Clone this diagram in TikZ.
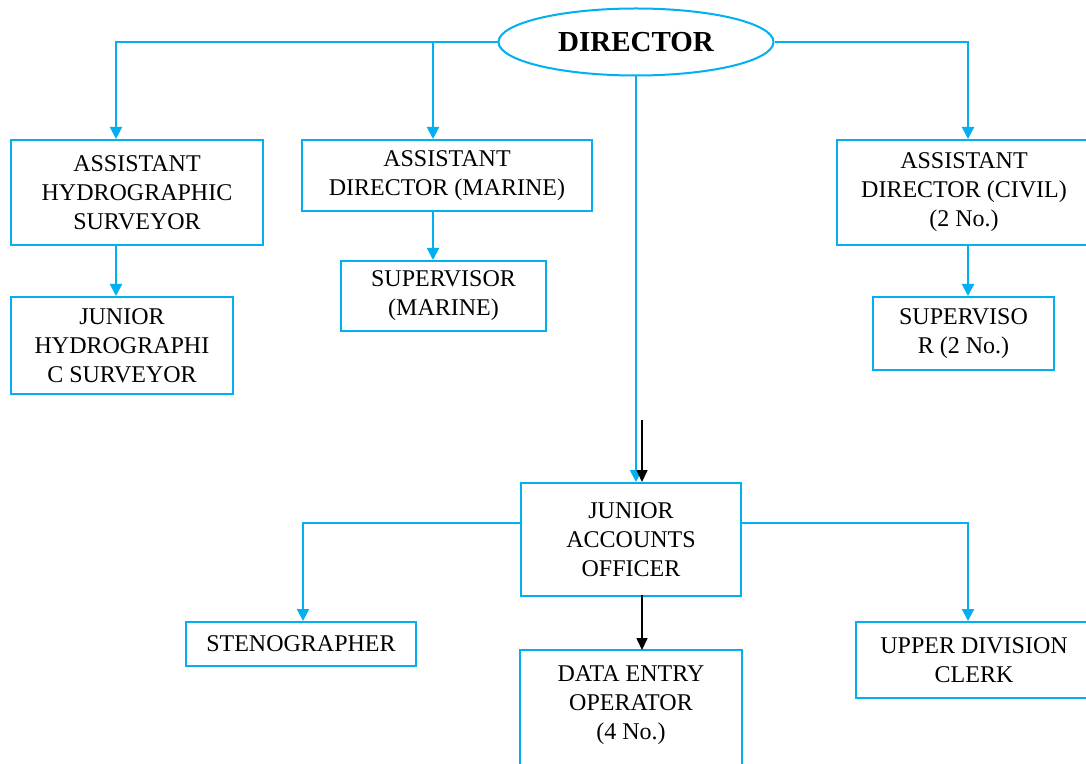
\documentclass[tikz,border=0pt]{standalone}
\usepackage{fontspec}
\setmainfont{Liberation Serif}
\usetikzlibrary{arrows.meta}
\usetikzlibrary{shapes.geometric}
\usetikzlibrary{positioning}

\definecolor{linkblue}{RGB}{0,176,240}

\tikzset {
  % connector styles
  arr/.style = {
    draw = linkblue,
    line width = 1pt,
    -{Triangle[width=6pt,length=6pt]}
  },
  karr/.style = {
    draw = black,
    line width = 0.8pt,
    -{Triangle[width=5.5pt,length=6pt]}
  }
}
\tikzset {
  % office box
  post/.style = {
    draw = linkblue,
    line width = 1pt,
    rectangle,
    align = center,
    inner sep = 0,
    font = \fontsize{12}{14.5}\selectfont
  },
  % head of the office
  head/.style = {
    draw = linkblue,
    line width = 1pt,
    ellipse,
    inner sep = 0,
    minimum width = 137.5pt,
    minimum height = 33.5pt,
    font = \fontsize{14.5}{17}\selectfont\bfseries
  }
}

\begin{document}
\begin{tikzpicture}[x=0.5pt,y=-0.5pt]
    \useasboundingbox (0,0) rectangle (1086,764);

    \node[head] (director) at (636,42) {DIRECTOR};

    \node[post, minimum width=126pt, minimum height=52.5pt] (asst-hydro) at (137,192.5)
      {ASSISTANT\\HYDROGRAPHIC\\SURVEYOR};
    \node[post, minimum width=145pt, minimum height=35.5pt] (asst-marine) at (447,175.5)
      {\raisebox{-2pt}{ASSISTANT}\\\raisebox{-2pt}{DIRECTOR (MARINE)}};
    \node[post, minimum width=127pt, minimum height=52.5pt] (asst-civil) at (964,192.5)
      {ASSISTANT\\DIRECTOR (CIVIL)\\(2 No.)};

    \node[post, minimum width=111pt, minimum height=48.5pt] (jr-hydro) at (122,345.5)
      {JUNIOR\\HYDROGRAPHI\\C SURVEYOR};
    \node[post, minimum width=102.5pt, minimum height=35pt] (sup-marine) at (443.5,296)
      {SUPERVISOR\\(MARINE)};
    \node[post, minimum width=90.5pt, minimum height=36.5pt] (sup-civil) at (963.5,333.5)
      {SUPERVISO\\R (2 No.)};

    \node[post, minimum width=110pt, minimum height=56.5pt] (jr-accounts) at (631,539.5)
      {JUNIOR\\ACCOUNTS\\OFFICER};
    \node[post, minimum width=115pt, minimum height=22pt] (steno) at (301,644)
      {STENOGRAPHER};
    \node[post, draw=none, minimum width=110pt, minimum height=52pt] (data-entry) at (631,705)
      {DATA ENTRY\\OPERATOR\\(4 No.)};
    \node[post, minimum width=118pt, minimum height=38pt] (udc) at (974,660)
      {UPPER DIVISION\\CLERK};

    % box of the data entry post runs on below the page
    \draw[linkblue, line width=1pt] ([yshift=1pt]data-entry.north west) rectangle ([yshift=-20pt]data-entry.south east);

    % bends of the connectors
    \coordinate (top-left) at (116,42);
    \coordinate (top-mid) at (433,42);
    \coordinate (top-right) at (968,42);
    \coordinate (black-start) at (642,420);
    \coordinate (acc-left) at (303,523);
    \coordinate (acc-right) at (968,523);

    \draw[arr] (director.west) -- (top-left) -- (top-left |- asst-hydro.north);
    \draw[arr] (top-mid) -- (top-mid |- asst-marine.north);
    \draw[arr] (director.east) -- (top-right) -- (top-right |- asst-civil.north);
    \draw[arr] (director.south) -- (director.south |- jr-accounts.north);
    \draw[karr] (black-start) -- (black-start |- jr-accounts.north);

    \draw[arr] (top-left |- asst-hydro.south) -- (top-left |- jr-hydro.north);
    \draw[arr] (top-mid |- asst-marine.south) -- (top-mid |- sup-marine.north);
    \draw[arr] (top-right |- asst-civil.south) -- (top-right |- sup-civil.north);

    \draw[arr] (jr-accounts.west |- acc-left) -- (acc-left) -- (acc-left |- steno.north);
    \draw[arr] (jr-accounts.east |- acc-right) -- (acc-right) -- (acc-right |- udc.north);
    \draw[karr] ([yshift=1pt]black-start |- jr-accounts.south) -- ([yshift=1pt]black-start |- data-entry.north);
  \end{tikzpicture}
\end{document}
